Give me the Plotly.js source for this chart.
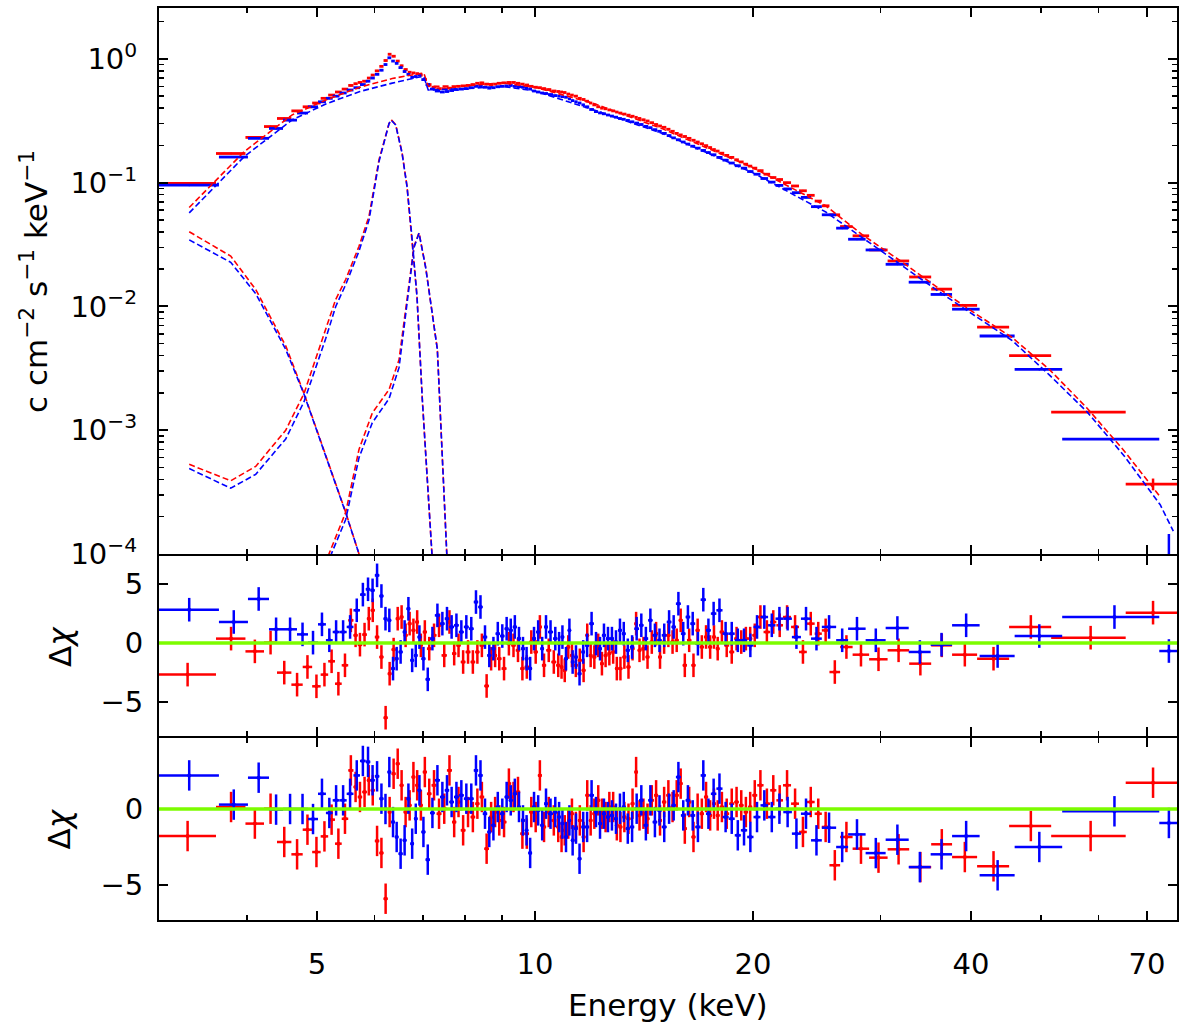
<!DOCTYPE html>
<html><head><meta charset="utf-8">
<script src="https://cdn.plot.ly/plotly-3.0.1.min.js"></script>
<style>html,body{margin:0;padding:0;background:#fff}#chart{width:1200px;height:1025px}</style>
</head><body><div id="chart"></div>
<script>
// ---------- data (energies in keV) ----------
const blueEdges = [3.00,3.660,4.014,4.292,4.487,4.691,4.858,5.015,5.143,5.255,
5.370,5.494,5.614,5.732,5.837,5.923,6.008,6.095,6.177,6.254,
6.330,6.403,6.478,6.566,6.645,6.726,6.806,6.882,6.966,7.059,
7.161,7.271,7.392,7.504,7.612,7.729,7.848,7.974,8.101,8.229,
8.347,8.468,8.590,8.702,8.819,8.947,9.076,9.198,9.315,9.441,
9.564,9.684,9.786,9.906,10.03,10.17,10.29,10.42,10.59,10.74,
10.85,10.97,11.10,11.21,11.33,11.45,11.59,11.72,11.88,12.06,
12.22,12.37,12.53,12.69,12.85,13.02,13.18,13.34,13.52,13.71,
13.92,14.12,14.33,14.53,14.75,14.96,15.20,15.43,15.65,15.90,
16.14,16.38,16.64,16.93,17.22,17.49,17.80,18.15,18.51,18.87,
19.24,19.63,20.03,20.48,20.98,21.48,22.02,22.63,23.29,24.05,
24.89,26.05,27.06,28.61,30.49,32.81,35.18,37.66,41.11,45.95,
53.45,72.78,77.3];
const blueFlux = [0.0955,0.161,0.228,0.274,0.320,0.365,0.41,0.45,0.48,0.50,
0.53,0.56,0.585,0.62,0.66,0.70,0.75,0.81,0.90,1.02,
0.96,0.92,0.85,0.79,0.75,0.71,0.72,0.74,0.68,0.62,
0.57,0.55,0.54,0.545,0.555,0.565,0.57,0.575,0.585,0.60,
0.605,0.59,0.58,0.585,0.595,0.60,0.605,0.61,0.60,0.595,
0.59,0.58,0.57,0.55,0.54,0.53,0.525,0.515,0.505,0.50,
0.495,0.49,0.475,0.46,0.45,0.44,0.425,0.41,0.39,0.375,
0.366,0.36,0.352,0.345,0.338,0.33,0.325,0.318,0.31,0.303,
0.295,0.285,0.278,0.268,0.26,0.25,0.24,0.23,0.222,0.213,
0.205,0.197,0.19,0.182,0.175,0.168,0.16,0.152,0.144,0.137,
0.131,0.123,0.117,0.108,0.101,0.095,0.089,0.083,0.076,0.064,
0.055,0.0429,0.0349,0.0286,0.0219,0.0157,0.0125,0.0095,0.00577,0.0031,
0.000846,0.00009];
const blueLastErr = [0.000055];
const blueResA = [2.82,1.78,3.73,1.16,1.16,0.73,0.03,1.58,0.23,0.93,
0.93,1.36,2.77,4.1,4.55,4.46,5.73,3.98,2.06,1.92,
-2.17,-1.33,-0.76,0.93,2.9,-1.47,-1.05,0.5,-1.33,-3.08,
0.37,2.34,1.64,2.06,1.36,1.5,0.93,1.36,1.21,3.47,
3.05,0.5,-1.05,-0.48,0.79,0.59,1.21,1.07,1.36,0.37,
-0.48,-1.33,-2.17,0.37,0.93,-0.48,1.36,0.93,0.37,-0.06,
0.5,-1.33,1.07,-1.61,-1.19,-2.6,-0.76,-0.2,1.64,-0.06,
-0.48,0.65,0.37,0.37,0.08,1.07,0.79,-0.62,-0.34,1.21,
1.5,0.37,1.92,0.65,0.23,0.65,1.78,1.36,3.33,0.79,
2.2,1.64,-0.06,3.67,1.07,2.49,2.77,0.79,0.79,0.23,
0.23,-0.2,1.36,2.2,1.5,2.06,2.06,0.5,2.06,0.37,
1.36,0.23,1.21,0.23,1.27,-0.76,-0.14,1.5,-1.1,0.59,
2.2,-0.68];
const blueResB = [2.21,0.29,2.06,-0.04,0.0,0.0,-0.66,1.0,-0.26,0.57,
0.57,1.0,2.21,3.16,3.1,1.89,2.15,0.68,0.0,2.43,
-0.86,-1.84,-2.94,-2.06,0.68,-2.28,-0.64,1.23,-1.51,-3.33,
-0.26,1.89,0.79,1.23,0.46,0.79,0.9,0.68,0.68,2.54,
2.21,-0.31,-1.51,-1.07,0.13,-0.31,0.79,0.57,1.0,0.13,
-0.75,-1.4,-2.89,0.13,-0.09,-1.07,0.35,-0.31,-0.2,-0.53,
-0.96,-1.84,-0.75,-2.06,-1.29,-3.27,-1.18,-1.18,0.9,-0.2,
-0.96,-0.31,-0.53,-0.42,-0.64,0.02,0.13,-1.29,-1.18,0.02,
0.57,-1.07,0.57,-0.86,-0.09,-1.18,0.02,0.24,2.1,-0.42,
0.57,-0.42,-1.18,2.21,-0.31,1.0,1.34,-0.53,-0.64,-1.73,
-1.4,-1.84,-0.53,0.24,-0.53,0.02,-0.2,-1.62,-0.31,-2.06,
-1.23,-2.5,-1.67,-2.9,-2.02,-3.82,-2.98,-1.78,-4.36,-2.5,
-0.15,-0.92];

const redEdges = [3.00,3.626,3.982,4.224,4.402,4.608,4.777,4.923,5.058,5.180,
5.294,5.408,5.521,5.614,5.690,5.772,5.859,5.930,6.008,6.095,
6.177,6.260,6.336,6.421,6.503,6.582,6.671,6.752,6.834,6.915,
6.997,7.091,7.195,7.311,7.428,7.556,7.680,7.786,7.895,8.017,
8.145,8.268,8.382,8.508,8.639,8.755,8.861,8.989,9.134,9.271,
9.405,9.540,9.672,9.811,9.952,10.09,10.22,10.36,10.53,10.70,
10.83,10.93,11.05,11.18,11.31,11.46,11.60,11.74,11.87,12.00,
12.15,12.30,12.44,12.59,12.74,12.90,13.04,13.20,13.37,13.55,
13.72,13.86,14.02,14.21,14.39,14.60,14.79,14.97,15.18,15.38,
15.59,15.79,15.99,16.21,16.44,16.66,16.88,17.11,17.34,17.56,
17.77,17.98,18.25,18.54,18.84,19.12,19.41,19.69,19.95,20.27,
20.68,21.12,21.54,22.00,22.57,23.15,23.73,24.33,24.89,25.50,
26.38,27.45,28.93,30.68,32.86,35.24,37.66,40.78,45.15,51.61,
65.41,77.3];
const redFlux = [0.0985,0.172,0.232,0.284,0.33,0.38,0.41,0.44,0.48,0.51,
0.54,0.57,0.61,0.63,0.645,0.66,0.70,0.74,0.80,0.87,
0.97,1.09,1.05,0.96,0.88,0.82,0.78,0.77,0.76,0.74,
0.68,0.62,0.59,0.575,0.575,0.58,0.59,0.60,0.605,0.61,
0.62,0.635,0.64,0.625,0.62,0.625,0.635,0.64,0.645,0.645,
0.635,0.625,0.615,0.60,0.59,0.585,0.575,0.565,0.55,0.545,
0.54,0.535,0.52,0.51,0.50,0.48,0.47,0.455,0.44,0.425,
0.41,0.40,0.395,0.387,0.38,0.372,0.365,0.358,0.351,0.344,
0.337,0.33,0.322,0.315,0.305,0.295,0.287,0.28,0.27,0.26,
0.25,0.243,0.236,0.228,0.22,0.213,0.206,0.199,0.192,0.185,
0.18,0.173,0.166,0.16,0.153,0.147,0.141,0.136,0.131,0.125,
0.117,0.11,0.106,0.100,0.094,0.086,0.079,0.071,0.065,0.055,
0.0442,0.0372,0.0286,0.0233,0.0173,0.0138,0.0102,0.0068,0.0040,0.0014,
0.000367];
const redLastErr = [0.00004];
const redResA = [-2.68,0.37,-0.71,0.03,-2.51,-3.53,-2.03,-3.67,-2.68,-1.55,
-3.45,-1.89,1.92,0.65,-0.14,0.71,2.06,2.77,0.5,-1.19,
-6.33,-2.6,-0.56,2.06,2.2,0.65,1.64,1.07,1.78,-0.2,
0.93,-0.48,0.65,1.5,-1.05,1.78,-0.9,-0.2,-1.61,-0.76,
-1.61,-0.76,-0.2,-3.64,-1.33,-1.05,-1.33,-2.17,-0.06,-0.2,
-0.62,-2.17,-2.03,0.08,-0.76,1.36,-1.89,-0.62,-1.61,-1.89,
-2.03,-2.32,-0.34,-1.05,-1.89,-1.47,-2.32,0.65,-1.05,-1.19,
-0.2,-1.75,-1.05,-0.9,-0.76,-2.17,-2.17,-1.19,-2.03,-0.48,
1.64,-0.62,-0.48,-1.19,0.08,0.79,-1.19,0.08,0.65,0.08,
0.23,1.92,-1.89,0.23,-1.89,1.07,-0.34,0.51,-0.34,0.51,
-0.48,0.93,-0.2,-0.76,0.37,0.08,0.37,0.37,0.65,2.2,
0.93,1.78,1.5,2.2,1.36,-0.76,1.64,0.79,1.07,-2.46,
-0.34,-0.99,-1.38,-0.62,-1.75,-0.2,-0.99,-1.33,1.36,0.45,
2.57];
const redResB = [-1.78,0.13,-0.96,0.02,-2.17,-2.98,-1.36,-2.83,-1.8,-0.7,
-2.28,-0.64,2.54,1.45,0.79,1.12,1.89,1.23,-2.1,-2.89,
-5.9,-0.2,2.32,2.98,1.56,-0.2,0.24,2.1,1.56,0.24,
2.43,1.0,1.56,-0.31,0.02,2.54,-0.86,0.46,-1.4,-0.2,
-0.53,0.35,0.79,-2.61,-0.53,-0.2,-0.75,-0.86,1.67,0.79,
1.12,-1.62,-1.62,-0.2,-0.53,2.21,-1.18,-0.2,-0.75,-1.18,
-1.84,-1.4,-0.96,-0.31,-1.18,-0.75,-1.84,0.9,-0.75,-0.31,
0.57,-0.31,-0.53,0.13,0.13,-1.07,-1.18,-0.53,-0.64,0.35,
2.43,-0.42,-0.31,-0.64,0.57,0.9,-0.75,0.46,0.9,0.13,
0.9,1.67,-1.29,0.46,-1.84,0.02,-0.31,0.79,-0.42,0.35,
-0.42,0.13,-0.31,0.35,0.46,0.24,-0.2,0.13,0.9,1.56,
0.35,1.23,0.57,1.56,0.35,-1.51,0.46,-0.31,-1.18,-3.7,
-1.84,-2.61,-3.2,-2.65,-3.82,-2.32,-3.16,-3.77,-1.12,-1.78,
1.73];

// model components (dashed)
const contEnergyRed  = [3.33,3.97,4.62,5.15,5.73,6.35,6.90,7.02,7.12,8.0,9.0,10.0,12.0,15.0,20.0,25.2,28.3,31.9,35.9,40.5,45.6,51.3,57.9,65.1,73.0];
const contRed        = [0.063,0.179,0.353,0.467,0.591,0.694,0.757,0.77,0.60,0.605,0.64,0.59,0.44,0.272,0.132,0.065,0.038,0.0235,0.0143,0.0088,0.0056,0.0031,0.0015,0.00068,0.00029];
const contEnergyBlue = [3.33,3.97,4.62,5.15,5.73,6.35,6.90,7.02,7.12,8.0,9.0,10.0,12.0,15.0,20.0,25.2,28.3,31.9,35.9,40.5,45.6,51.3,57.9,65.1,73.0,76.1];
const contBlue       = [0.057,0.163,0.322,0.434,0.545,0.637,0.711,0.72,0.56,0.575,0.60,0.55,0.39,0.25,0.12,0.058,0.036,0.022,0.0135,0.0084,0.0053,0.0028,0.0014,0.00062,0.00025,0.000153];
const softEnergy = [3.33,3.80,4.114,4.526,4.797,5.140,5.477,5.714,5.90];
const softRed    = [0.0401,0.0255,0.0137,0.0048,0.00198,0.00062,0.000217,0.0001,0.00005];
const softBlue   = [0.0345,0.0227,0.0127,0.0045,0.00195,0.00061,0.000215,0.0001,0.00005];
const kaEnergy = [3.33,3.80,4.114,4.526,4.797,5.140,5.306,5.477,5.714,5.899,6.089,6.286,6.33,6.421,6.551,6.656,6.762,6.871,6.988,7.100,7.214,7.33];
const kaRed    = [0.00053,0.00039,0.00051,0.0010,0.00198,0.0066,0.0114,0.0165,0.0306,0.0537,0.153,0.30,0.322,0.294,0.175,0.0935,0.036,0.012,0.00177,0.00043,0.0001,0.00002];
const kaBlue   = [0.00049,0.00034,0.00044,0.00085,0.0017,0.0055,0.0100,0.0150,0.028,0.050,0.148,0.30,0.320,0.292,0.174,0.093,0.036,0.012,0.00177,0.00043,0.0001,0.00002];
const kbEnergy = [5.05,5.193,5.477,5.714,5.961,6.286,6.489,6.698,6.806,6.915,7.064,7.330,7.543,7.65];
const kbRed    = [0.00005,0.0001,0.000217,0.0007,0.00138,0.00213,0.0037,0.0158,0.0306,0.0394,0.0206,0.0045,0.0001,0.00002];
const kbBlue   = [0.00005,0.00009,0.00019,0.0006,0.00115,0.0018,0.0032,0.0150,0.030,0.0390,0.0205,0.0045,0.0001,0.00002];

// ticks
const xTickVals = [5,10,20,40,70];
const xTickText = ['5','10','20','40','70'];
const xMinorVals = [3,4,6,7,8,9,30,50,60];
const yTopVals = [1e-4,1e-3,1e-2,1e-1,1];
const yTopText = ['10<sup>−4</sup>','10<sup>−3</sup>','10<sup>−2</sup>','10<sup>−1</sup>','10<sup>0</sup>'];
const yResVals = [-5,0,5];
const yResText = ['−5','0','5'];

// ---------- build ----------
const RED = '#ff0000', BLUE = '#0000ff', GREEN = '#7cfc00';
function binGeom(edges, n) {
  const x = [], lo = [], hi = [];
  for (let i = 0; i < n; i++) {
    const a = edges[i], b = edges[i + 1], c = (a + b) / 2;
    x.push(c); lo.push(c - a); hi.push(b - c);
  }
  return {x, lo, hi};
}
function dataTraces(edges, flux, resA, resB, lastErr, color) {
  const n = Math.min(edges.length - 1, flux.length, resA.length, resB.length);
  const g = binGeom(edges, n);
  const ferr = new Array(n).fill(0);
  for (let k = 0; k < lastErr.length; k++) ferr[n - lastErr.length + k] = lastErr[k];
  const ex = {type: 'data', symmetric: false, array: g.hi, arrayminus: g.lo, width: 0, thickness: 2.8, color: color};
  const top = {x: g.x, y: flux.slice(0, n), xaxis: 'x', yaxis: 'y', type: 'scatter', mode: 'markers',
    marker: {color: color, size: 2}, error_x: ex,
    error_y: {type: 'data', array: ferr, width: 0, thickness: 2.5, color: color}, hoverinfo: 'skip'};
  const mk = (vals, ya, xa) => ({x: g.x, y: vals.slice(0, n), xaxis: xa, yaxis: ya, type: 'scatter', mode: 'markers',
    marker: {color: color, size: 4}, error_x: Object.assign({}, ex, {thickness: 2.5}),
    error_y: {type: 'constant', value: 1, width: 0, thickness: 2.5, color: color}, hoverinfo: 'skip'});
  return [top, mk(resA, 'y2', 'x2'), mk(resB, 'y3', 'x3')];
}
function modelLine(xs, ys, color) {
  return {x: xs, y: ys, xaxis: 'x', yaxis: 'y', type: 'scatter', mode: 'lines',
    line: {color: color, width: 1.6, dash: '6px,3px'}, hoverinfo: 'skip'};
}
const redT = dataTraces(redEdges, redFlux, redResA, redResB, redLastErr, RED);
const blueT = dataTraces(blueEdges, blueFlux, blueResA, blueResB, blueLastErr, BLUE);

const traces = [
  modelLine(softEnergy, softRed, RED), modelLine(softEnergy, softBlue, BLUE),
  modelLine(kaEnergy, kaRed, RED), modelLine(kaEnergy, kaBlue, BLUE),
  modelLine(kbEnergy, kbRed, RED), modelLine(kbEnergy, kbBlue, BLUE),
  redT[0], blueT[0],
  modelLine(contEnergyRed, contRed, RED), modelLine(contEnergyBlue, contBlue, BLUE),
  redT[1], blueT[1], redT[2], blueT[2]
];

const FONT = 'DejaVu Sans, Verdana, sans-serif';
const xRange = [Math.log10(3.025), Math.log10(77.0)];
function xAxis(anchor, labels) {
  return {type: 'log', range: xRange, domain: [0, 1], anchor: anchor,
    showline: true, linecolor: '#000', linewidth: 2, mirror: 'allticks',
    ticks: 'inside', ticklen: 9, tickwidth: 2, tickcolor: '#000',
    tickmode: 'array', tickvals: xTickVals, ticktext: xTickText,
    showticklabels: labels, tickfont: {family: FONT, size: 29, color: '#000'},
    ticklabelstandoff: 17,
    minor: {tickmode: 'array', tickvals: xMinorVals, ticks: 'inside', ticklen: 5, tickwidth: 1.5, tickcolor: '#000', showgrid: false},
    showgrid: false, zeroline: false, fixedrange: true};
}
const yMinor = [];
for (let d = -4; d <= 0; d++) for (let k = 2; k <= 9; k++) yMinor.push(k * Math.pow(10, d));
function resAxis(domain, range, anchor) {
  return {domain: domain, range: range, anchor: anchor,
    showline: true, linecolor: '#000', linewidth: 2, mirror: 'allticks',
    ticks: 'inside', ticklen: 9, tickwidth: 2, tickcolor: '#000',
    tickmode: 'array', tickvals: yResVals, ticktext: yResText,
    tickfont: {family: FONT, size: 29, color: '#000'}, ticklabelstandoff: 8,
    showgrid: false, zeroline: false, fixedrange: true};
}
const layout = {
  width: 1200, height: 1025,
  margin: {l: 159, r: 23, t: 8, b: 105, pad: 0},
  paper_bgcolor: '#fff', plot_bgcolor: '#fff',
  showlegend: false, hovermode: false,
  font: {family: FONT, color: '#000'},
  xaxis: xAxis('y', false),
  xaxis2: xAxis('y2', false),
  xaxis3: xAxis('y3', true),
  yaxis: {type: 'log', domain: [0.40132, 1], range: [-4, 0.411], anchor: 'x',
    showline: true, linecolor: '#000', linewidth: 2, mirror: 'allticks',
    ticks: 'inside', ticklen: 9, tickwidth: 2, tickcolor: '#000',
    tickmode: 'array', tickvals: yTopVals, ticktext: yTopText,
    tickfont: {family: FONT, size: 29, color: '#000'}, ticklabelstandoff: 14,
    minor: {tickmode: 'array', tickvals: yMinor, ticks: 'inside', ticklen: 5, tickwidth: 1.5, tickcolor: '#000', showgrid: false},
    showgrid: false, zeroline: false, fixedrange: true},
  yaxis2: resAxis([0.20175, 0.39912], [-7.88, 7.37], 'x2'),
  yaxis3: resAxis([0, 0.19956], [-7.30, 4.67], 'x3'),
  shapes: [
    {type: 'line', xref: 'x2 domain', x0: 0, x1: 1, yref: 'y2', y0: 0, y1: 0, line: {color: GREEN, width: 3.5}, layer: 'above'},
    {type: 'line', xref: 'x3 domain', x0: 0, x1: 1, yref: 'y3', y0: 0, y1: 0, line: {color: GREEN, width: 3.5}, layer: 'above'}
  ],
  annotations: [
    {text: 'c cm<sup>−2</sup> s<sup>−1</sup> keV<sup>−1</sup>', xref: 'paper', yref: 'paper', x: -0.1228, y: 0.7007,
     textangle: -90, showarrow: false, xanchor: 'center', yanchor: 'middle', font: {family: FONT, size: 31, color: '#000'}},
    {text: 'Δ<i>χ</i>', xref: 'paper', yref: 'paper', x: -0.0973, y: 0.30045,
     textangle: -90, showarrow: false, xanchor: 'center', yanchor: 'middle', font: {family: FONT, size: 31, color: '#000'}},
    {text: 'Δ<i>χ</i>', xref: 'paper', yref: 'paper', x: -0.0973, y: 0.10035,
     textangle: -90, showarrow: false, xanchor: 'center', yanchor: 'middle', font: {family: FONT, size: 31, color: '#000'}},
    {text: 'Energy (keV)', xref: 'paper', yref: 'paper', x: 0.5, y: -0.0932,
     showarrow: false, xanchor: 'center', yanchor: 'middle', font: {family: FONT, size: 31, color: '#000'}}
  ]
};
Plotly.newPlot('chart', traces, layout, {displayModeBar: false, staticPlot: true});
</script>
</body></html>
